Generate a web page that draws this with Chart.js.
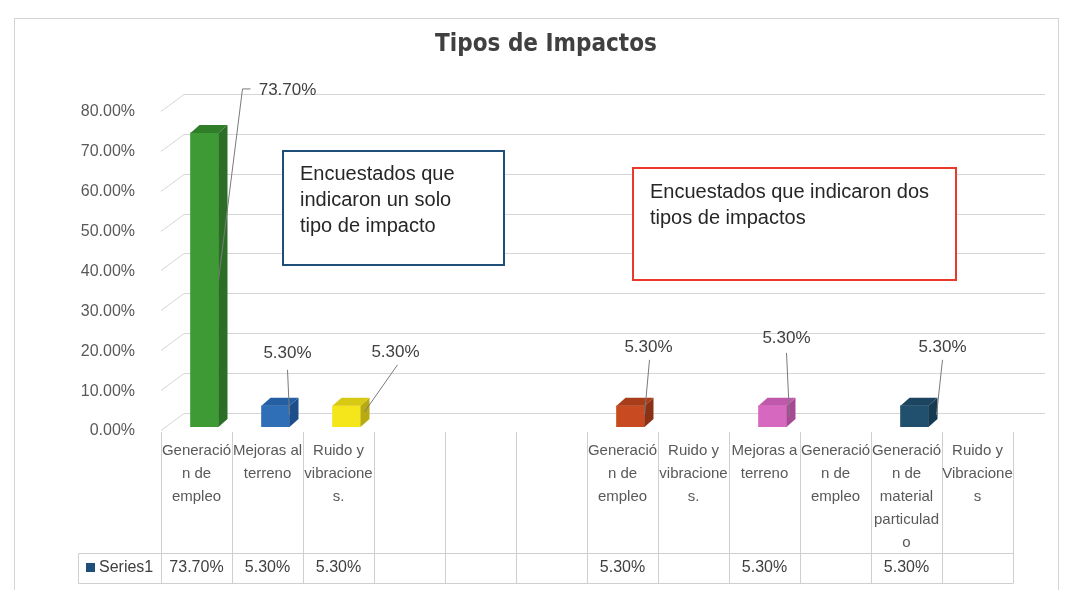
<!DOCTYPE html>
<html>
<head>
<meta charset="utf-8">
<script src="https://cdn.jsdelivr.net/npm/chart.js@4"></script>
<style>
  body { margin: 0; background: #fff; }
  #wrap { width: 1071px; height: 590px; position: relative; }
</style>
</head>
<body>
<div id="wrap"><canvas id="c"></canvas></div>
<script>
// data
const categories = [
  ['Generació', 'n de', 'empleo'],
  ['Mejoras al', 'terreno'],
  ['Ruido y', 'vibracione', 's.'],
  [''], [''], [''],
  ['Generació', 'n de', 'empleo'],
  ['Ruido y', 'vibracione', 's.'],
  ['Mejoras a', 'terreno'],
  ['Generació', 'n de', 'empleo'],
  ['Generació', 'n de', 'material', 'particulad', 'o'],
  ['Ruido y', 'Vibracione', 's']
];
const seriesName = 'Series1';
const values = [73.7, 5.3, 5.3, null, null, null, 5.3, null, 5.3, null, 5.3, null];
const yMax = 80;
const yStep = 10;

// colours per bar (front, side, top)
const frontColors = ['#3d9a35', '#2e6fb8', '#f5e51b', '#999', '#999', '#999', '#c74a20', '#999', '#d768c0', '#999', '#21506f', '#999'];
const sideColors  = ['#2b6f26', '#1d4e8a', '#b7aa12', '#777', '#777', '#777', '#8b3115', '#777', '#a74a94', '#777', '#163a52', '#777'];
const topColors   = ['#307d2a', '#245ea3', '#d8c914', '#888', '#888', '#888', '#a83d1a', '#888', '#c058ab', '#888', '#1b4560', '#888'];

const FONT = '"Liberation Sans", Arial, sans-serif';
const pct = v => v.toFixed(2) + '%';

// label placement relative to bar (x = bar centre, y = bar top)
const callouts = {
  0:  { lx: 83, ly: -43, sx: 38, sy: -40, ex: 14, ey: 147, bracket: true },
  1:  { lx: 12, ly: -53, sx: 12, sy: -36, ex: 14, ey: 9 },
  2:  { lx: 49, ly: -54, sx: 51, sy: -41, ex: 18, ey: 6 },
  6:  { lx: 18, ly: -59, sx: 19, sy: -46, ex: 14, ey: 9 },
  8:  { lx: 14, ly: -68, sx: 14, sy: -53, ex: 17, ey: 11 },
  10: { lx: 28, ly: -59, sx: 28, sy: -46, ex: 22, ey: 9 }
};

const proj = 8;                 // 3D projection shift of the bars vs. the floor/table
const depth = { dx: 9, dy: 8 };
const wall = { dx: 23, dy: -17, right: 1045 };

const deco = {
  id: 'deco',
  beforeDraw(chart) {
    const ctx = chart.ctx;
    ctx.save();
    ctx.fillStyle = '#fff';
    ctx.fillRect(0, 0, chart.width, chart.height);
    ctx.strokeStyle = '#d4d4d4';
    ctx.lineWidth = 1;
    ctx.strokeRect(14.5, 18.5, 1044, 600);
    ctx.restore();
  },
  beforeDatasetsDraw(chart) {
    // back wall gridlines of the 3D plot
    const ctx = chart.ctx, y = chart.scales.y, left = chart.chartArea.left - proj;
    ctx.save();
    ctx.strokeStyle = '#d6d6d6';
    ctx.lineWidth = 1;
    for (let v = 0; v <= yMax; v += yStep) {
      const py = Math.round(y.getPixelForValue(v) + 3) + 0.5;
      ctx.beginPath();
      ctx.moveTo(left, py);
      ctx.lineTo(left + wall.dx, py + wall.dy);
      ctx.lineTo(wall.right, py + wall.dy);
      ctx.stroke();
    }
    ctx.restore();
  },
  afterDatasetsDraw(chart) {
    const ctx = chart.ctx;
    const meta = chart.getDatasetMeta(0);
    ctx.save();
    meta.data.forEach((bar, i) => {
      if (values[i] == null) return;
      const p = bar.getProps(['x', 'y', 'base', 'width'], true);
      const l = p.x - p.width / 2, r = p.x + p.width / 2;
      ctx.fillStyle = sideColors[i];
      ctx.beginPath();
      ctx.moveTo(r, p.y);
      ctx.lineTo(r + depth.dx, p.y - depth.dy);
      ctx.lineTo(r + depth.dx, p.base - depth.dy);
      ctx.lineTo(r, p.base);
      ctx.closePath();
      ctx.fill();
      ctx.fillStyle = topColors[i];
      ctx.beginPath();
      ctx.moveTo(l, p.y);
      ctx.lineTo(l + depth.dx, p.y - depth.dy);
      ctx.lineTo(r + depth.dx, p.y - depth.dy);
      ctx.lineTo(r, p.y);
      ctx.closePath();
      ctx.fill();
    });
    // data labels with leader lines
    ctx.font = '17px ' + FONT;
    ctx.textAlign = 'center';
    ctx.textBaseline = 'middle';
    meta.data.forEach((bar, i) => {
      const c = callouts[i];
      if (!c || values[i] == null) return;
      const p = bar.getProps(['x', 'y'], true);
      ctx.strokeStyle = '#7a7a7a';
      ctx.lineWidth = 1;
      ctx.beginPath();
      ctx.moveTo(p.x + c.ex, p.y + c.ey);
      if (c.bracket) {
        ctx.lineTo(p.x + c.sx, p.y + c.sy - 4);
        ctx.lineTo(p.x + c.sx + 8, p.y + c.sy - 4);
      } else {
        ctx.lineTo(p.x + c.sx, p.y + c.sy);
      }
      ctx.stroke();
      ctx.fillStyle = '#404040';
      ctx.fillText(pct(values[i]), p.x + c.lx, p.y + c.ly);
    });
    ctx.restore();
  },
  afterDraw(chart) {
    const ctx = chart.ctx, x = chart.scales.x;
    const n = categories.length;
    const col = i => x.getPixelForValue(i) - proj;
    const half = (x.getPixelForValue(1) - x.getPixelForValue(0)) / 2;
    const top = 432, rowTop = 553, rowBottom = 583, keyLeft = 78;
    ctx.save();
    ctx.strokeStyle = '#cfcfcf';
    ctx.lineWidth = 1;
    for (let i = 0; i <= n; i++) {
      const px = Math.round(col(0) - half + i * half * 2) + 0.5;
      ctx.beginPath();
      ctx.moveTo(px, top);
      ctx.lineTo(px, rowBottom);
      ctx.stroke();
    }
    const right = Math.round(col(n - 1) + half) + 0.5;
    ctx.beginPath();
    ctx.moveTo(keyLeft + 0.5, rowTop + 0.5);
    ctx.lineTo(right, rowTop + 0.5);
    ctx.moveTo(keyLeft + 0.5, rowBottom + 0.5);
    ctx.lineTo(right, rowBottom + 0.5);
    ctx.moveTo(keyLeft + 0.5, rowTop + 0.5);
    ctx.lineTo(keyLeft + 0.5, rowBottom + 0.5);
    ctx.stroke();

    // category labels
    ctx.font = '15px ' + FONT;
    ctx.fillStyle = '#595959';
    ctx.textAlign = 'center';
    ctx.textBaseline = 'middle';
    categories.forEach((lines, i) => {
      lines.forEach((t, k) => ctx.fillText(t, col(i), 451 + k * 23));
    });
    // series row
    ctx.font = '16px ' + FONT;
    ctx.fillStyle = '#1f4e79';
    ctx.fillRect(86, 563, 9, 9);
    ctx.fillStyle = '#404040';
    ctx.textAlign = 'left';
    ctx.fillText(seriesName, 99, 568);
    ctx.textAlign = 'center';
    values.forEach((v, i) => {
      if (v == null) return;
      ctx.fillText(pct(v), col(i), 568);
    });

    // text boxes
    ctx.fillStyle = '#fff';
    ctx.fillRect(283, 151, 221, 114);
    ctx.strokeStyle = '#1f4e79';
    ctx.lineWidth = 2;
    ctx.strokeRect(283, 151, 221, 114);
    ctx.fillStyle = '#fff';
    ctx.fillRect(633, 168, 323, 112);
    ctx.strokeStyle = '#e8392b';
    ctx.strokeRect(633, 168, 323, 112);
    ctx.font = '20px ' + FONT;
    ctx.fillStyle = '#262626';
    ctx.textAlign = 'left';
    ['Encuestados que', 'indicaron un solo', 'tipo de impacto'].forEach((t, k) => ctx.fillText(t, 300, 174 + k * 26));
    ['Encuestados que indicaron dos', 'tipos de impactos'].forEach((t, k) => ctx.fillText(t, 650, 192 + k * 26));
    ctx.restore();
  }
};

new Chart(document.getElementById('c'), {
  type: 'bar',
  data: {
    labels: categories,
    datasets: [{
      label: seriesName,
      data: values,
      backgroundColor: frontColors,
      borderWidth: 0,
      barThickness: 28
    }]
  },
  options: {
    responsive: true,
    maintainAspectRatio: false,
    animation: false,
    layout: { padding: { left: 71, right: 50, top: 18, bottom: 163 } },
    plugins: {
      legend: { display: false },
      tooltip: { enabled: false },
      title: {
        display: true,
        text: 'Tipos de Impactos',
        color: '#404040',
        font: { family: '"Liberation Sans Narrow", "DejaVu Sans Condensed", sans-serif', size: 24, weight: 'bold' },
        padding: { top: 12, bottom: 49 }
      }
    },
    scales: {
      x: { display: false },
      y: {
        min: 0,
        max: yMax,
        afterFit(scale) { scale.width = 98; },
        grid: { display: false },
        border: { display: false },
        ticks: {
          stepSize: yStep,
          padding: 26,
          labelOffset: 4,
          color: '#595959',
          font: { family: FONT, size: 16 },
          callback: v => pct(v)
        }
      }
    }
  },
  plugins: [deco]
});
</script>
</body>
</html>
